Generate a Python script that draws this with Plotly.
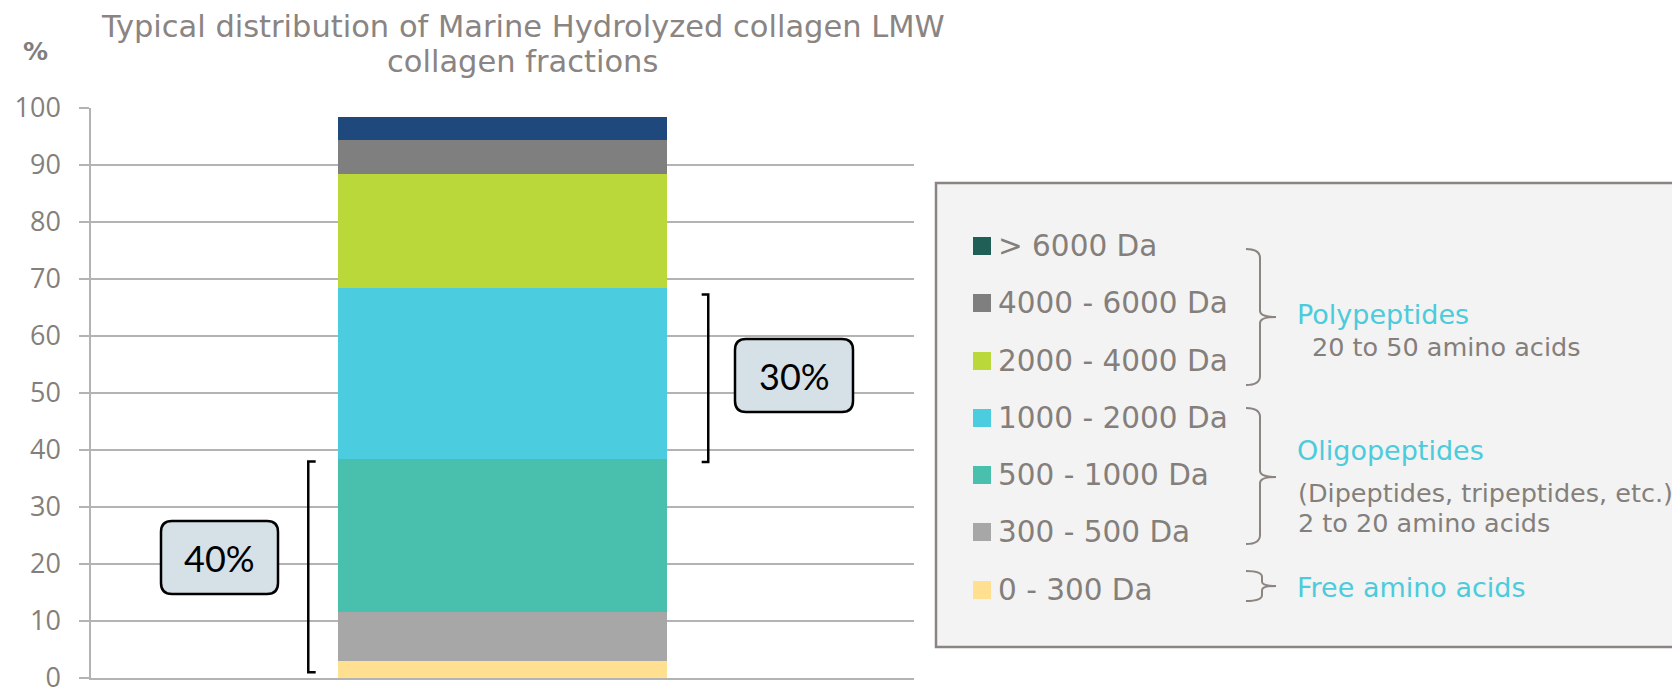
import plotly.graph_objects as go

# ---------------- data ----------------
categories = ["LMW collagen"]
fractions = ["0 - 300 Da", "300 - 500 Da", "500 - 1000 Da", "1000 - 2000 Da",
             "2000 - 4000 Da", "4000 - 6000 Da", "> 6000 Da"]
values = [2.9, 8.6, 26.9, 30.0, 20.0, 6.0, 4.0]
bar_colors = ["#fee090", "#a7a7a7", "#49c0ad", "#4bcddf", "#bad839", "#7f7f7f", "#1f497d"]
legend_colors = ["#fee090", "#a7a7a7", "#49c0ad", "#4bcddf", "#bad839", "#7f7f7f", "#1f5f55"]
y_ticks = [0, 10, 20, 30, 40, 50, 60, 70, 80, 90, 100]
group_labels = ["Polypeptides", "Oligopeptides", "Free amino acids"]
group_notes = [["20 to 50 amino acids"], ["(Dipeptides, tripeptides, etc.)", "2 to 20 amino acids"], []]
bracket_labels = ["40%", "30%"]

# page body has an 8px margin: size the figure so it fills the window exactly
OFF = 8
W, H = 1680 - OFF, 689 - OFF
def px(x): return (x - OFF) / W
def py(y): return 1 - (y - OFF) / H

GREY = "#857f7b"
GRID = "#b3b3b3"
CYAN = "#4bcbdc"
FONT = "DejaVu Sans"

fig = go.Figure()
for name, v, c in zip(fractions, values, bar_colors):
    fig.add_trace(go.Bar(x=categories, y=[v], name=name, marker=dict(color=c, line=dict(width=0)),
                         width=0.4, showlegend=False))

cum = []
s = 0
for v in values:
    s += v
    cum.append(s)

shapes = []
annotations = []

# title
annotations.append(dict(text="Typical distribution of Marine Hydrolyzed collagen LMW", x=px(523), y=py(27),
                        xref="paper", yref="paper", showarrow=False, xanchor="center", yanchor="middle",
                        font=dict(family=FONT, size=30.5, color="#8a8482")))
annotations.append(dict(text="collagen fractions", x=px(522), y=py(62),
                        xref="paper", yref="paper", showarrow=False, xanchor="center", yanchor="middle",
                        font=dict(family=FONT, size=30.5, color="#8a8482")))
annotations.append(dict(text="<b>%</b>", x=px(35), y=py(51), xref="paper", yref="paper", showarrow=False,
                        xanchor="center", yanchor="middle", font=dict(family=FONT, size=25, color="#7f7f7f")))

# brackets on chart (data coords)
def bracket(xv, xs, y0, y1):
    return dict(type="path", xref="x", yref="y",
                path=f"M {xs} {y1} L {xv} {y1} L {xv} {y0} L {xs} {y0}",
                line=dict(color="black", width=2.5))
shapes.append(bracket(-0.236, -0.227, 1.0, cum[2] - 0.4))
shapes.append(bracket(0.25, 0.242, cum[2] - 0.5, cum[3] - 1.1))

# rounded boxes (pixel coords)
def rbox(x0, y0, x1, y1, r=11):
    p = (f"M {px(x0+r)} {py(y0)} L {px(x1-r)} {py(y0)} Q {px(x1)} {py(y0)} {px(x1)} {py(y0+r)} "
         f"L {px(x1)} {py(y1-r)} Q {px(x1)} {py(y1)} {px(x1-r)} {py(y1)} "
         f"L {px(x0+r)} {py(y1)} Q {px(x0)} {py(y1)} {px(x0)} {py(y1-r)} "
         f"L {px(x0)} {py(y0+r)} Q {px(x0)} {py(y0)} {px(x0+r)} {py(y0)} Z")
    return dict(type="path", xref="paper", yref="paper", path=p, fillcolor="#d6e0e7",
                line=dict(color="black", width=2.5))
boxes = [(161, 521, 278, 594), (735, 339, 853, 412)]
for (x0, y0, x1, y1), lab in zip(boxes, bracket_labels):
    shapes.append(rbox(x0, y0, x1, y1))
    annotations.append(dict(text=lab, x=px((x0 + x1) / 2), y=py((y0 + y1) / 2), xref="paper", yref="paper",
                            showarrow=False, xanchor="center", yanchor="middle",
                            font=dict(family="Lato", size=36, color="black")))

# legend panel
shapes.append(dict(type="rect", xref="paper", yref="paper", x0=px(936), x1=px(1685), y0=py(183), y1=py(647),
                   fillcolor="#f3f3f3", line=dict(color="#8c8480", width=2.5), layer="below"))
item_y = [590, 532, 475, 418, 361, 303, 246]
for yc, lab, c in zip(item_y, fractions, legend_colors):
    shapes.append(dict(type="rect", xref="paper", yref="paper", x0=px(973), x1=px(991), y0=py(yc - 9),
                       y1=py(yc + 9), fillcolor=c, line=dict(width=0)))
    annotations.append(dict(text=lab, x=px(996), y=py(yc), xref="paper", yref="paper", showarrow=False,
                            xanchor="left", yanchor="middle", font=dict(family=FONT, size=29.5, color=GREY)))

# curly braces
def brace(top, bot, mid, xl=1246, xv=1260, xt=1276, r=9):
    p = (f"M {px(xl)} {py(top)} Q {px(xv)} {py(top)} {px(xv)} {py(top + r)} "
         f"L {px(xv)} {py(mid - r * 0.7)} Q {px(xv)} {py(mid)} {px(xt)} {py(mid)} "
         f"Q {px(xv)} {py(mid)} {px(xv)} {py(mid + r * 0.7)} "
         f"L {px(xv)} {py(bot - r)} Q {px(xv)} {py(bot)} {px(xl)} {py(bot)}")
    return dict(type="path", xref="paper", yref="paper", path=p, line=dict(color="#8c8480", width=2))
shapes.append(brace(249, 385, 317))
shapes.append(brace(408, 544, 477))
shapes.append(brace(571, 601, 586, xv=1262, r=6))

group_y = [315, 451, 587]
for lab, yc in zip(group_labels, group_y):
    annotations.append(dict(text=lab, x=px(1295), y=py(yc), xref="paper", yref="paper", showarrow=False,
                            xanchor="left", yanchor="middle", font=dict(family=FONT, size=27, color=CYAN)))
note_pos = [[(1310, 347)], [(1296, 493), (1296, 523)], []]
for notes, poss in zip(group_notes, note_pos):
    for t, (x, y) in zip(notes, poss):
        annotations.append(dict(text=t, x=px(x), y=py(y), xref="paper", yref="paper", showarrow=False,
                                xanchor="left", yanchor="middle", font=dict(family=FONT, size=25.5, color=GREY)))

fig.update_layout(
    width=W, height=H, margin=dict(l=0, r=0, t=0, b=0, autoexpand=False), autosize=False,
    barmode="stack", bargap=0, plot_bgcolor="white", paper_bgcolor="white",
    showlegend=False, shapes=shapes, annotations=annotations,
    xaxis=dict(domain=[px(91), px(914)], range=[-0.5, 0.5], showticklabels=False, ticks="",
               showgrid=False, showline=True, linecolor=GRID, linewidth=1.5, zeroline=False,
               fixedrange=True, automargin=False),
    yaxis=dict(domain=[py(678), py(108)], range=[0, 100], tickvals=y_ticks, ticks="outside", ticklen=10,
               tickwidth=1.5, tickcolor=GRID, showline=True, linecolor=GRID, linewidth=1.5,
               showgrid=True, gridcolor=GRID, gridwidth=1.5, zeroline=False, ticklabelstandoff=13,
               ticklabeloverflow="allow",
               tickfont=dict(family="Open Sans", size=27, color="#857f7c"), fixedrange=True,
               automargin=False),
)

fig.write_html("out.html")
